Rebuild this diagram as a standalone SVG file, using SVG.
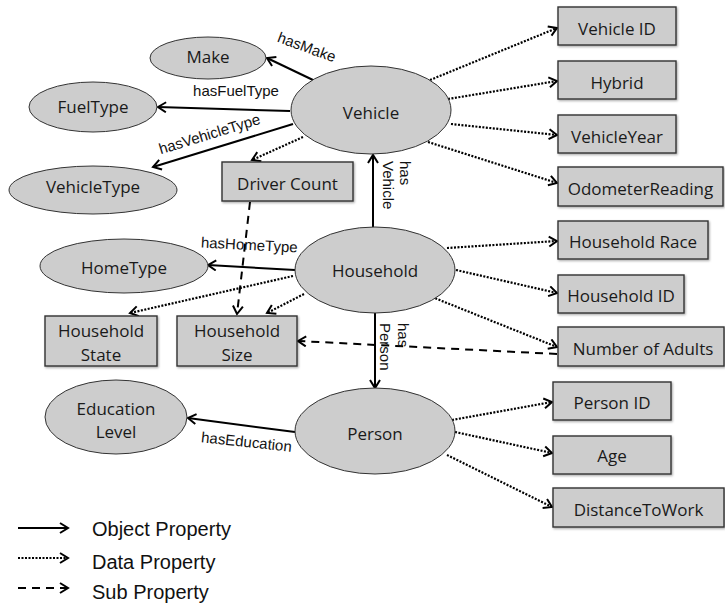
<svg xmlns="http://www.w3.org/2000/svg" width="725" height="607" viewBox="0 0 725 607">
<style>
.el{fill:#cdcdcd;stroke:#333;stroke-width:1}
.bx{fill:#cdcdcd;stroke:#333;stroke-width:1.4;filter:url(#sh)}
.n{font-family:"Open Sans","DejaVu Sans",sans-serif;font-size:17px;fill:#1a1a1a;text-anchor:middle}
.lb{font-family:"Liberation Sans",Arial,sans-serif;font-size:15px;fill:#111}
.lg{font-family:"Liberation Sans",Arial,sans-serif;font-size:20px;fill:#111}
.obj{fill:none;stroke:#000;stroke-width:2;marker-end:url(#ah)}
.dat{fill:none;stroke:#000;stroke-width:2.2;stroke-dasharray:2 1.5;marker-end:url(#ah)}
.sub{fill:none;stroke:#000;stroke-width:2;stroke-dasharray:8 6;marker-end:url(#ah)}
</style>
<defs>
<marker id="ah" markerUnits="userSpaceOnUse" markerWidth="14" markerHeight="14" refX="10" refY="6" orient="auto">
<path d="M2,1 L10,6 L2,11" fill="none" stroke="#000" stroke-width="2" stroke-dasharray="none"/>
</marker>
<filter id="sh" x="-10%" y="-10%" width="130%" height="140%">
<feDropShadow dx="1" dy="1.2" stdDeviation="0.8" flood-color="#000" flood-opacity="0.35"/>
</filter>
</defs>
<rect width="725" height="607" fill="#fff"/>

<g id="connectors">
<path class="obj" d="M313,80 L267,58"/>
<path class="obj" d="M290,111 L158,107"/>
<path class="obj" d="M293,124 L153,167"/>
<path class="obj" d="M373,227 L373,155"/>
<path class="obj" d="M295,270 L208,265"/>
<path class="obj" d="M375,312 L375,388"/>
<path class="obj" d="M295,432 L188,418"/>
<path class="dat" d="M430,80 L557,28"/>
<path class="dat" d="M448,99 L557,81"/>
<path class="dat" d="M451,124 L557,135"/>
<path class="dat" d="M428,142 L557,183"/>
<path class="dat" d="M303,137 L252,160"/>
<path class="dat" d="M447,248 L557,241"/>
<path class="dat" d="M456,270 L557,293"/>
<path class="dat" d="M432,297 L557,347"/>
<path class="dat" d="M293,276 L130,313"/>
<path class="dat" d="M304,294 L267,313"/>
<path class="dat" d="M452,420 L552,402"/>
<path class="dat" d="M455,432 L552,453"/>
<path class="dat" d="M447,455 L552,507"/>
<path class="sub" d="M250,202 L237,314"/>
<path class="sub" d="M557,354 L298,341"/>
<text class="lb" x="305" y="52" text-anchor="middle" transform="rotate(20 305 52)">hasMake</text>
<text class="lb" x="236" y="96" text-anchor="middle">hasFuelType</text>
<text class="lb" x="211" y="139" text-anchor="middle" transform="rotate(-17 211 139)">hasVehicleType</text>
<text class="lb" x="249" y="250" text-anchor="middle" transform="rotate(3 249 250)">hasHomeType</text>
<text class="lb" x="246" y="447" text-anchor="middle" transform="rotate(6 246 447)">hasEducation</text>
<text class="lb" transform="translate(400,161) rotate(90)">has</text>
<text class="lb" transform="translate(383,161) rotate(90)">Vehicle</text>
<text class="lb" transform="translate(398,323) rotate(90)">has</text>
<text class="lb" transform="translate(380,323) rotate(90)">Person</text>
</g>

<g id="vehicle"><ellipse class="el" cx="371" cy="110" rx="80" ry="44"/><text class="n" x="371" y="119">Vehicle</text></g>
<g id="make"><ellipse class="el" cx="208" cy="58" rx="58" ry="21"/><text class="n" x="208" y="63">Make</text></g>
<g id="fueltype"><ellipse class="el" cx="93" cy="107" rx="64" ry="25"/><text class="n" x="93" y="113">FuelType</text></g>
<g id="vehicletype"><ellipse class="el" cx="93" cy="190" rx="84" ry="24"/><text class="n" x="93" y="193">VehicleType</text></g>
<g id="drivercount"><rect class="bx" x="222" y="162" width="131" height="39"/><text class="n" x="287.5" y="190">Driver Count</text></g>
<g id="vehicleid"><rect class="bx" x="558" y="7" width="118" height="38"/><text class="n" x="617" y="35">Vehicle ID</text></g>
<g id="hybrid"><rect class="bx" x="558" y="61" width="118" height="38"/><text class="n" x="617" y="89">Hybrid</text></g>
<g id="vehicleyear"><rect class="bx" x="558" y="115" width="118" height="38"/><text class="n" x="617" y="143">VehicleYear</text></g>
<g id="odometer"><rect class="bx" x="558" y="167" width="165" height="39"/><text class="n" x="640.5" y="195">OdometerReading</text></g>

<g id="household"><ellipse class="el" cx="375" cy="270" rx="80" ry="43"/><text class="n" x="375" y="277">Household</text></g>
<g id="hometype"><ellipse class="el" cx="124" cy="266" rx="84" ry="27"/><text class="n" x="124" y="274">HomeType</text></g>
<g id="householdstate"><rect class="bx" x="45" y="316" width="112" height="50"/><text class="n" x="101" y="337">Household</text><text class="n" x="101" y="361">State</text></g>
<g id="householdsize"><rect class="bx" x="177" y="316" width="120" height="50"/><text class="n" x="237" y="337">Household</text><text class="n" x="237" y="361">Size</text></g>
<g id="householdrace"><rect class="bx" x="558" y="221" width="150" height="38"/><text class="n" x="633" y="248">Household Race</text></g>
<g id="householdid"><rect class="bx" x="558" y="275" width="126" height="38"/><text class="n" x="621" y="302">Household ID</text></g>
<g id="numadults"><rect class="bx" x="558" y="327" width="166" height="39"/><text class="n" x="643" y="355">Number of Adults</text></g>

<g id="person"><ellipse class="el" cx="375" cy="431" rx="80" ry="43"/><text class="n" x="375" y="440">Person</text></g>
<g id="education"><ellipse class="el" cx="116" cy="417" rx="71" ry="37"/><text class="n" x="116" y="415">Education</text><text class="n" x="116" y="438">Level</text></g>
<g id="personid"><rect class="bx" x="553" y="382" width="118" height="38"/><text class="n" x="612" y="409">Person ID</text></g>
<g id="age"><rect class="bx" x="553" y="436" width="118" height="38"/><text class="n" x="612" y="462">Age</text></g>
<g id="distance"><rect class="bx" x="553" y="488" width="171" height="39"/><text class="n" x="638.5" y="516">DistanceToWork</text></g>

<g id="legend">
<path class="obj" d="M18,528 L68,528"/>
<path class="dat" d="M18,558 L68,558"/>
<path class="sub" d="M18,588 L68,588"/>
<text class="lg" x="92" y="536">Object Property</text>
<text class="lg" x="92" y="569">Data Property</text>
<text class="lg" x="92" y="599">Sub Property</text>
</g>
</svg>
